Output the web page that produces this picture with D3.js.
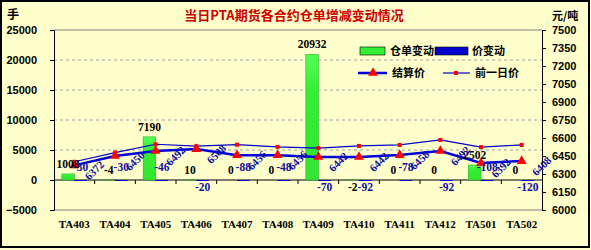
<!DOCTYPE html>
<html>
<head>
<meta charset="utf-8">
<script src="https://cdn.jsdelivr.net/npm/d3@7"></script>
<style>
  html, body { margin: 0; padding: 0; background: #ffffcc; }
  svg { display: block; }
</style>
</head>
<body>
<div id="chart"></div>
<script>
const categories = ["TA403", "TA404", "TA405", "TA406", "TA407", "TA408", "TA409", "TA410", "TA411", "TA412", "TA501", "TA502"];
const stockChange = [1008, -4, 7190, 10, 0, 0, 20932, -2, 0, 0, 2502, 0];
const priceChange = [-30, -30, -46, -20, -88, -48, -70, -92, -78, -92, -108, -120];
const settlePrice = [6372, 6450, 6492, 6508, 6456, 6456, 6442, 6442, 6458, 6492, 6392, 6408];
const prevPrice = [6402, 6478, 6548, 6532, 6544, 6526, 6516, 6534, 6542, 6584, 6524, 6542];
const leftTicks = [-5000, 0, 5000, 10000, 15000, 20000, 25000];
const rightTicks = [6000, 6150, 6300, 6450, 6600, 6750, 6900, 7050, 7200, 7350, 7500];

// labels that the original sheet shows under the zero line
const stockBelow = new Set(["TA410"]);
const priceBelow = new Set(["TA406", "TA409", "TA410", "TA412", "TA502"]);

const width = 591, height = 250;
const plot = { left: 54, right: 542, top: 30, bottom: 210 };

const svg = d3.select("#chart").append("svg")
  .attr("width", width)
  .attr("height", height);

svg.append("rect")
  .attr("x", 1).attr("y", 1)
  .attr("width", width - 3).attr("height", height - 4)
  .attr("fill", "#ffffcc")
  .attr("stroke", "#000")
  .attr("stroke-width", 2);

const x = d3.scaleBand().domain(categories).range([plot.left, plot.right]);
const xs = d3.scaleBand().domain(["stock", "price"])
  .range([x.bandwidth() / 2 - 12.5, x.bandwidth() / 2 + 12.5]);
const yL = d3.scaleLinear().domain([-5000, 25000]).range([plot.bottom, plot.top]);
const yR = d3.scaleLinear().domain([6000, 7500]).range([plot.bottom, plot.top]);

const rows = categories.map((c, i) => ({
  cat: c,
  stock: stockChange[i],
  price: priceChange[i],
  settle: settlePrice[i],
  prev: prevPrice[i]
}));

const cx = (d) => x(d.cat) + x.bandwidth() / 2;

// gridlines
svg.append("g")
  .selectAll("line")
  .data(leftTicks.filter((t) => t > 0 && t < 25000))
  .join("line")
  .attr("x1", plot.left).attr("x2", plot.right)
  .attr("y1", (d) => yL(d)).attr("y2", (d) => yL(d))
  .attr("stroke", "#a0a0a0")
  .attr("stroke-dasharray", "3,3");

// plot frame top/bottom
svg.append("line")
  .attr("x1", plot.left).attr("x2", plot.right)
  .attr("y1", plot.top).attr("y2", plot.top)
  .attr("stroke", "#808080");
svg.append("line")
  .attr("x1", plot.left).attr("x2", plot.right)
  .attr("y1", plot.bottom).attr("y2", plot.bottom)
  .attr("stroke", "#808080");

// axes
const tickFont = (g) => g.selectAll("text")
  .attr("font-family", "'Liberation Sans', Arial, sans-serif")
  .attr("font-weight", "bold")
  .attr("font-size", 11)
  .attr("fill", "#000");

svg.append("g")
  .attr("transform", `translate(${plot.left},0)`)
  .call(d3.axisLeft(yL).tickValues(leftTicks).tickSize(4).tickPadding(13).tickFormat(d3.format("d")))
  .call((g) => g.select(".domain").attr("stroke", "#000"))
  .call(tickFont);

svg.append("g")
  .attr("transform", `translate(${plot.right},0)`)
  .call(d3.axisRight(yR).tickValues(rightTicks).tickSize(4).tickPadding(6).tickFormat(d3.format("d")))
  .call((g) => g.select(".domain").attr("stroke", "#000"))
  .call(tickFont);

// category axis on the zero line
svg.append("line")
  .attr("x1", plot.left).attr("x2", plot.right)
  .attr("y1", yL(0)).attr("y2", yL(0))
  .attr("stroke", "#000");

svg.append("g")
  .selectAll("line")
  .data(categories.slice(1))
  .join("line")
  .attr("x1", (d) => x(d)).attr("x2", (d) => x(d))
  .attr("y1", yL(0)).attr("y2", yL(0) + 4)
  .attr("stroke", "#000");

svg.append("g")
  .selectAll("text")
  .data(categories)
  .join("text")
  .attr("x", (d) => x(d) + x.bandwidth() / 2)
  .attr("y", 228)
  .attr("text-anchor", "middle")
  .attr("font-family", "'Liberation Serif', 'Times New Roman', serif")
  .attr("font-weight", "bold")
  .attr("font-size", 11)
  .text((d) => d);

// bars
const defs = svg.append("defs");
const grad = defs.append("linearGradient")
  .attr("id", "greenGrad")
  .attr("x1", 0).attr("y1", 0).attr("x2", 0).attr("y2", 1);
grad.append("stop").attr("offset", "0%").attr("stop-color", "#55ff55");
grad.append("stop").attr("offset", "30%").attr("stop-color", "#33ee33");
grad.append("stop").attr("offset", "100%").attr("stop-color", "#33e633");

svg.append("g")
  .selectAll("rect")
  .data(rows)
  .join("rect")
  .attr("x", (d) => x(d.cat) + xs("stock"))
  .attr("width", xs.bandwidth())
  .attr("y", (d) => yL(Math.max(0, d.stock)))
  .attr("height", (d) => Math.abs(yL(d.stock) - yL(0)))
  .attr("fill", "url(#greenGrad)")
  .attr("stroke", "#22b022")
  .attr("stroke-width", 0.6);

svg.append("g")
  .selectAll("rect")
  .data(rows)
  .join("rect")
  .attr("x", (d) => x(d.cat) + xs("price"))
  .attr("width", xs.bandwidth())
  .attr("y", (d) => yL(Math.max(0, d.price)))
  .attr("height", (d) => Math.max(1, Math.abs(yL(d.price) - yL(0))))
  .attr("fill", "#0000cc");

// lines
const prevLine = d3.line().x(cx).y((d) => yR(d.prev));
const settleLine = d3.line().x(cx).y((d) => yR(d.settle));

svg.append("path")
  .datum(rows)
  .attr("d", prevLine)
  .attr("fill", "none")
  .attr("stroke", "#0000cc")
  .attr("stroke-width", 1.2);

svg.append("path")
  .datum(rows)
  .attr("d", settleLine)
  .attr("fill", "none")
  .attr("stroke", "#0000dd")
  .attr("stroke-width", 2.5);

svg.append("g")
  .selectAll("rect")
  .data(rows)
  .join("rect")
  .attr("x", (d) => cx(d) - 2)
  .attr("y", (d) => yR(d.prev) - 2)
  .attr("width", 4).attr("height", 4)
  .attr("fill", "#ff0000");

const tri = d3.symbol().type(d3.symbolTriangle).size(42);
svg.append("g")
  .selectAll("path")
  .data(rows)
  .join("path")
  .attr("transform", (d) => `translate(${cx(d)},${yR(d.settle)})`)
  .attr("d", tri)
  .attr("fill", "#ff0000");

// value labels
const valueFont = (sel) => sel
  .attr("font-family", "'Liberation Serif', 'Times New Roman', serif")
  .attr("font-weight", "bold")
  .attr("font-size", 11.5);

svg.append("g")
  .selectAll("text")
  .data(rows)
  .join("text")
  .attr("x", (d) => x(d.cat) + xs("stock") + xs.bandwidth() / 2)
  .attr("y", (d) => stockBelow.has(d.cat) ? yL(0) + 11 : yL(Math.max(0, d.stock)) - 6)
  .attr("text-anchor", "middle")
  .attr("fill", "#000")
  .call(valueFont)
  .text((d) => d.stock);

svg.append("g")
  .selectAll("text")
  .data(rows)
  .join("text")
  .attr("x", (d) => x(d.cat) + xs("price") + xs.bandwidth() / 2)
  .attr("y", (d) => priceBelow.has(d.cat) ? yL(0) + 11 : yL(0) - 9)
  .attr("text-anchor", "middle")
  .attr("fill", "#1010a0")
  .call(valueFont)
  .text((d) => d.price);

svg.append("g")
  .selectAll("text")
  .data(rows)
  .join("text")
  .attr("transform", (d) => `translate(${cx(d) + 20},${yR(d.settle) + 5}) rotate(-45)`)
  .attr("text-anchor", "middle")
  .attr("dy", "0.35em")
  .attr("fill", "#1010a0")
  .call(valueFont)
  .attr("font-size", 11)
  .text((d) => d.settle);

// title and units
svg.append("text")
  .attr("x", 294).attr("y", 20)
  .attr("text-anchor", "middle")
  .attr("font-family", "'Noto Sans CJK SC', sans-serif")
  .attr("font-weight", "bold")
  .attr("font-size", 13)
  .attr("fill", "#cc0000")
  .text("当日PTA期货各合约仓单增减变动情况");

svg.append("text")
  .attr("x", 7).attr("y", 19)
  .attr("font-family", "'Noto Sans CJK SC', sans-serif")
  .attr("font-weight", "bold")
  .attr("font-size", 12)
  .text("手");

svg.append("text")
  .attr("x", 552).attr("y", 20)
  .attr("font-family", "'Noto Sans CJK SC', sans-serif")
  .attr("font-weight", "bold")
  .attr("font-size", 11)
  .text("元/吨");

// legend
const legend = svg.append("g")
  .attr("font-family", "'Noto Sans CJK SC', sans-serif")
  .attr("font-weight", "bold")
  .attr("font-size", 11);

legend.append("rect")
  .attr("x", 360).attr("y", 47).attr("width", 25).attr("height", 8)
  .attr("fill", "#33ee33").attr("stroke", "#000").attr("stroke-width", 0.6);
legend.append("text").attr("x", 390).attr("y", 55).text("仓单变动");

legend.append("rect")
  .attr("x", 435).attr("y", 47).attr("width", 33).attr("height", 8)
  .attr("fill", "#0000cc").attr("stroke", "#000").attr("stroke-width", 0.6);
legend.append("text").attr("x", 472).attr("y", 55).text("价变动");

legend.append("line")
  .attr("x1", 358).attr("x2", 387).attr("y1", 73).attr("y2", 73)
  .attr("stroke", "#0000dd").attr("stroke-width", 2.5);
legend.append("path")
  .attr("transform", "translate(373,73)")
  .attr("d", tri)
  .attr("fill", "#ff0000");
legend.append("text").attr("x", 392).attr("y", 77).text("结算价");

legend.append("line")
  .attr("x1", 443).attr("x2", 470).attr("y1", 73).attr("y2", 73)
  .attr("stroke", "#0000cc").attr("stroke-width", 1.2);
legend.append("rect")
  .attr("x", 454).attr("y", 71).attr("width", 4).attr("height", 4)
  .attr("fill", "#ff0000");
legend.append("text").attr("x", 475).attr("y", 77).text("前一日价");
</script>
</body>
</html>
